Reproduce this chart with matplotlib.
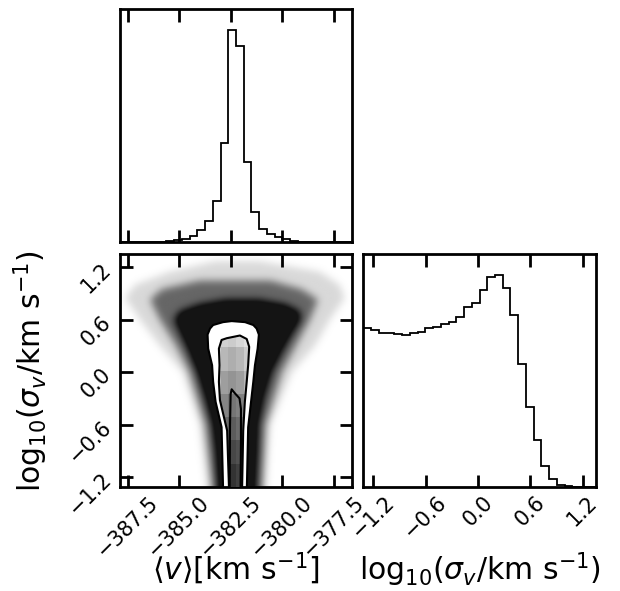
import numpy as np
import matplotlib
matplotlib.use("Agg")
import matplotlib.pyplot as plt
from matplotlib.path import Path
from matplotlib.patches import PathPatch

# ---------------- data ----------------
v_range = (-387.87, -376.61)
s_range = (-1.315, 1.35)
nbins = 30

# normalised 1D histogram of <v>
v_hist = [0, 0, 0, 0, 0, 0, 0.004, 0.011, 0.017, 0.030, 0.058, 0.10, 0.195, 0.467,
          1.0, 0.926, 0.378, 0.142, 0.065, 0.038, 0.024, 0.014, 0.005, 0.002,
          0, 0, 0, 0, 0, 0]
# normalised 1D histogram of log10 sigma_v
s_hist = [0.752, 0.742, 0.726, 0.728, 0.722, 0.718, 0.728, 0.731, 0.750, 0.755,
          0.772, 0.780, 0.805, 0.853, 0.870, 0.929, 0.992, 1.0, 0.940, 0.813,
          0.580, 0.380, 0.220, 0.098, 0.038, 0.010, 0.003, 0.001, 0, 0]

v_ticks = [-387.5, -385.0, -382.5, -380.0, -377.5]
v_ticklabels = ["\u2212387.5", "\u2212385.0", "\u2212382.5", "\u2212380.0", "\u2212377.5"]
s_ticks = [-1.2, -0.6, 0.0, 0.6, 1.2]
s_ticklabels = ["\u22121.2", "\u22120.6", "0.0", "0.6", "1.2"]

# scatter cloud envelopes: (log sigma, v_low, v_high) and darkness of each layer
fringe_s = [-1.40, -0.6, 0.0, 0.3, 0.6, 0.85, 1.0, 1.15, 1.27]
fringe_lo = [-383.6, -383.99, -384.82, -385.93, -386.9, -387.63, -387.15, -385.45, -383.26]
fringe_hi = [-380.83, -380.59, -379.52, -378.41, -377.68, -376.95, -377.2, -378.17, -381.08]
outer_s = [-1.40, -0.6, 0.0, 0.3, 0.6, 0.83, 0.95, 1.05]
outer_lo = [-383.36, -383.75, -384.52, -385.15, -385.93, -386.42, -385.85, -383.98]
outer_hi = [-380.98, -380.79, -380.01, -379.33, -378.65, -378.25, -379.05, -380.59]
core_s = [-1.40, -0.9, -0.6, -0.3, 0.0, 0.25, 0.45, 0.60, 0.70, 0.78, 0.83]
core_lo = [-383.12, -383.26, -383.41, -383.75, -384.14, -384.57, -384.96, -385.25,
           -384.96, -383.99, -382.78]
core_hi = [-381.27, -381.17, -381.13, -380.88, -380.50, -379.96, -379.48, -379.09,
           -379.14, -379.86, -381.08]
layer_dark = [0.15, 0.45, 0.45]

# contour lines (v, log sigma)
c1_v = [-382.86, -382.94, -383.23, -383.35, -383.40, -383.59, -383.62, -383.50, -383.35,
        -382.87, -382.45, -381.80, -381.40, -381.24, -381.13, -381.19, -381.32,
        -381.40, -381.51, -381.65, -381.72]
c1_s = [-1.40, -0.63, -0.34, -0.11, 0.08, 0.27, 0.43, 0.50, 0.54,
        0.573, 0.585, 0.573, 0.54, 0.50, 0.43, 0.27, 0.08,
        -0.11, -0.34, -0.63, -1.40]
c2_v = [-382.57, -382.67, -383.02, -383.07, -383.04, -383.07, -382.94, -382.69, -382.05,
        -381.72, -381.60, -381.65, -381.72, -381.81, -381.89, -381.95]
c2_s = [-1.40, -0.67, -0.32, -0.11, 0.08, 0.27, 0.369, 0.389, 0.42,
        0.38, 0.29, 0.08, -0.11, -0.34, -0.67, -1.40]
c3_v = [-382.55, -382.53, -382.50, -382.45, -382.30, -382.07, -382.00, -382.00, -382.02]
c3_s = [-1.40, -0.60, -0.25, -0.196, -0.24, -0.30, -0.42, -0.80, -1.40]

# density shading inside the inner contour (rows bottom->top, columns = 2D bins 12..16)
shade = [[0.30, 0.25, 0.20, 0.25, 0.30],
         [0.40, 0.32, 0.28, 0.32, 0.40],
         [0.50, 0.42, 0.36, 0.42, 0.50],
         [0.60, 0.52, 0.46, 0.50, 0.60],
         [0.72, 0.62, 0.58, 0.62, 0.72],
         [0.80, 0.72, 0.68, 0.72, 0.80],
         [0.88, 0.82, 0.80, 0.84, 0.88]]

xlabel_v = r"$\langle v\rangle[\mathrm{km\ s^{-1}}]$"
label_s = r"$\mathrm{log}_{10}(\sigma_v/\mathrm{km\ s^{-1}})$"

# ---------------- figure ----------------
W, H = 620, 591
fig = plt.figure(figsize=(W / 100, H / 100), dpi=100)
ax_top = fig.add_axes([120 / W, 1 - 242.3 / H, 232 / W, 233 / H])
ax_2d = fig.add_axes([120 / W, 1 - 487 / H, 232 / W, 232.7 / H])
ax_r = fig.add_axes([363.3 / W, 1 - 487 / H, 232.4 / W, 232.7 / H])

TL, TW, LS, FS = 9, 2.0, 15, 21.5
for ax in (ax_top, ax_2d, ax_r):
    for sp in ax.spines.values():
        sp.set_linewidth(2.0)

v_edges = np.linspace(v_range[0], v_range[1], nbins + 1)
s_edges = np.linspace(s_range[0], s_range[1], nbins + 1)

# top histogram
ax_top.stairs(v_hist, v_edges, color="k", lw=1.3)
ax_top.set_xlim(v_range)
ax_top.set_ylim(0, 1.1 * max(v_hist))
ax_top.set_xticks(v_ticks)
ax_top.set_yticks([])
ax_top.tick_params(axis="x", direction="in", length=TL, width=TW, top=True, bottom=True,
                   labelbottom=False)

# right histogram
ax_r.stairs(s_hist, s_edges, color="k", lw=1.3)
ax_r.set_xlim(s_range)
ax_r.set_ylim(0, 1.1 * max(s_hist))
ax_r.set_xticks(s_ticks, s_ticklabels, rotation=45)
ax_r.set_yticks([])
ax_r.tick_params(axis="x", direction="in", length=TL, width=TW, top=True, bottom=True,
                 labelsize=LS)
ax_r.set_xlabel(label_s, fontsize=FS)
ax_r.xaxis.set_label_coords(0.5, -0.275)

# 2D panel: scatter cloud as a softened density image
nx, ny = 420, 420
gx = np.linspace(v_range[0], v_range[1], nx)
gy = np.linspace(s_range[0], s_range[1], ny)
GX, GY = np.meshgrid(gx, gy)
pts = np.column_stack([GX.ravel(), GY.ravel()])
dark = np.zeros(GX.shape)
for (ss, lo, hi), d in zip([(fringe_s, fringe_lo, fringe_hi),
                            (outer_s, outer_lo, outer_hi),
                            (core_s, core_lo, core_hi)], layer_dark):
    verts = list(zip(lo, ss)) + list(zip(hi[::-1], ss[::-1]))
    p = Path(verts + [verts[0]], closed=True)
    dark += d * p.contains_points(pts).reshape(GX.shape)

def soften(img, sig):
    r = int(3 * sig) + 1
    k = np.exp(-0.5 * (np.arange(-r, r + 1) / sig) ** 2)
    k /= k.sum()
    img = np.pad(img, r, mode="edge")
    img = np.apply_along_axis(lambda m: np.convolve(m, k, mode="valid"), 0, img)
    img = np.apply_along_axis(lambda m: np.convolve(m, k, mode="valid"), 1, img)
    return img

dark = np.clip(soften(dark, 7.0), 0, 0.92)
ax_2d.imshow(dark, cmap="gray_r", vmin=0, vmax=1, origin="lower", aspect="auto",
             extent=(v_range[0], v_range[1], s_range[0], s_range[1]),
             interpolation="bilinear", zorder=1)

# white region inside the outer contour
c1_patch = PathPatch(Path(list(zip(c1_v, c1_s)) + [(c1_v[0], c1_s[0])], closed=True),
                     facecolor="white", edgecolor="none", zorder=2)
ax_2d.add_patch(c1_patch)

# density shading inside the inner contour
c2_patch = PathPatch(Path(list(zip(c2_v, c2_s)) + [(c2_v[0], c2_s[0])], closed=True),
                     facecolor="none", edgecolor="none", zorder=2)
ax_2d.add_patch(c2_patch)
shade_arr = np.array(shade)
col_edges = v_edges[12:12 + shade_arr.shape[1] + 1]
row_edges = s_edges[0:3 * shade_arr.shape[0] + 1:3]
mesh = ax_2d.pcolormesh(col_edges, row_edges, shade_arr, cmap="gray", vmin=0, vmax=1,
                        zorder=3)
mesh.set_clip_path(c2_patch)

for cv, cs in ((c1_v, c1_s), (c2_v, c2_s), (c3_v, c3_s)):
    ax_2d.plot(cv, cs, color="k", lw=1.5, zorder=4, solid_joinstyle="round")

ax_2d.set_xlim(v_range)
ax_2d.set_ylim(s_range)
ax_2d.set_xticks(v_ticks, v_ticklabels, rotation=45)
ax_2d.set_yticks(s_ticks, s_ticklabels, rotation=45)
ax_2d.tick_params(direction="in", length=TL, width=TW, top=True, bottom=True,
                  left=True, right=True, labelsize=LS)
ax_2d.set_xlabel(xlabel_v, fontsize=FS)
ax_2d.set_ylabel(label_s, fontsize=FS)
ax_2d.xaxis.set_label_coords(0.5, -0.275)
ax_2d.yaxis.set_label_coords(-0.3, 0.5)

fig.savefig("out.png", dpi=100)
